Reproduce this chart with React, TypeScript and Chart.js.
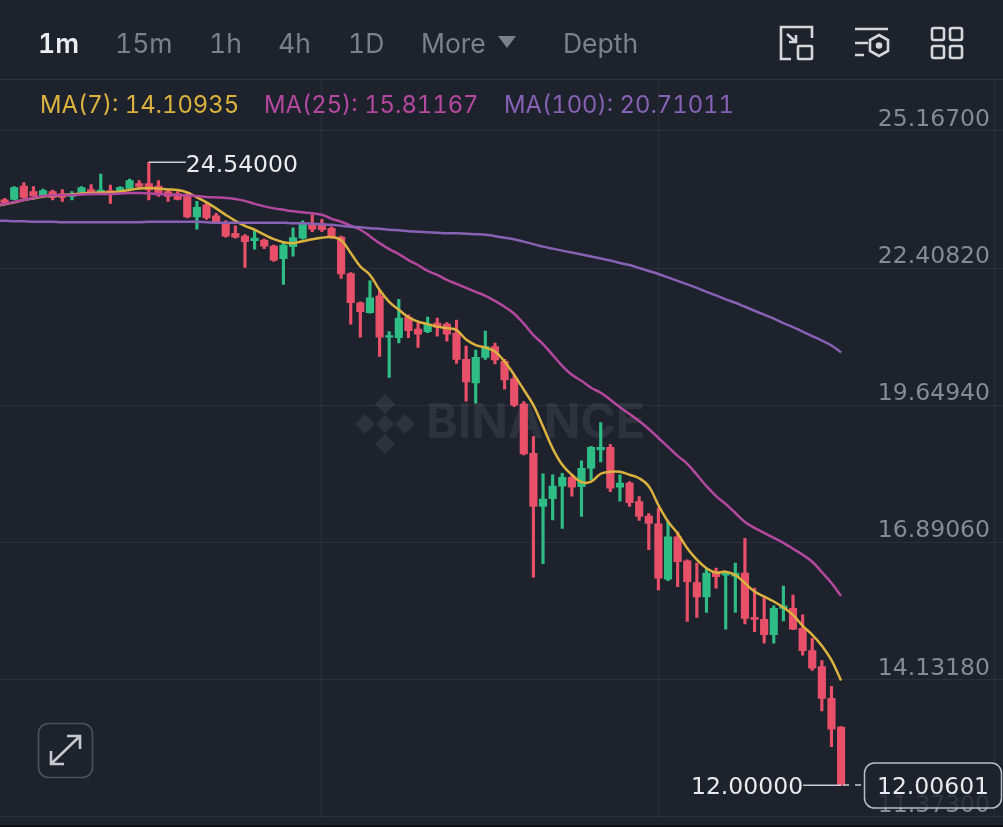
import React, { useEffect, useRef } from "react";
import { Chart, registerables } from "chart.js";

Chart.register(...registerables);

// candles, oldest first
const opens = [
  23.78, 23.79, 24.06, 23.95, 23.87, 23.95, 23.91, 23.85, 23.93, 23.99, 23.93, 23.97, 23.95, 24.01, 24.11, 24.11,
  24.06, 23.95, 23.91, 23.88, 23.44, 23.68, 23.46, 23.32, 23.11, 23.05, 22.96, 22.97, 22.85, 22.6, 22.84, 23.01,
  23.28, 23.3, 23.21, 23.03, 22.3, 21.71, 21.51, 21.85, 21.02, 21.01, 21.42, 21.18, 21.13, 21.3, 21.28, 21.1,
  20.57, 20.1, 20.61, 20.83, 20.53, 20.18, 19.67, 18.68, 17.61, 17.77, 18.02, 18.2, 18.01, 18.38, 18.75, 18.8,
  18.0, 18.08, 17.71, 17.42, 17.26, 16.15, 17.0, 16.52, 16.08, 15.79, 16.3, 16.23, 16.21, 16.27, 15.38, 15.34,
  15.03, 15.56, 15.56, 15.16, 14.71, 14.39, 13.75, 13.17,
];
const closes = [
  23.73, 24.03, 23.83, 23.86, 23.97, 23.83, 23.83, 23.91, 24.03, 23.91, 23.98, 23.9, 24.03, 24.17, 24.05, 23.98,
  23.88, 23.85, 23.79, 23.44, 23.63, 23.42, 23.32, 23.05, 23.03, 22.94, 23.01, 22.85, 22.57, 22.87, 23.02, 23.3,
  23.19, 23.18, 23.04, 22.29, 21.71, 21.53, 21.81, 21.02, 21.05, 21.4, 21.15, 21.08, 21.28, 21.22, 21.08, 20.57,
  20.12, 20.61, 20.83, 20.56, 20.16, 19.65, 18.67, 17.61, 17.76, 18.02, 18.2, 18.0, 18.38, 18.8, 18.8, 17.98,
  18.08, 17.69, 17.41, 17.27, 16.17, 17.0, 16.5, 16.1, 15.79, 16.27, 16.2, 16.27, 16.27, 15.36, 15.34, 15.03,
  15.56, 15.61, 15.14, 14.71, 14.36, 13.75, 13.13, 12.01,
];
const highs = [
  23.81, 24.05, 24.13, 24.05, 24.0, 23.98, 23.99, 23.95, 24.05, 24.09, 24.3, 24.08, 24.05, 24.2, 24.17, 24.54,
  24.17, 23.98, 23.95, 23.91, 23.75, 23.71, 23.51, 23.36, 23.26, 23.08, 23.18, 22.99, 22.87, 22.91, 23.22, 23.36,
  23.48, 23.39, 23.24, 23.05, 22.32, 21.73, 22.15, 21.97, 21.13, 21.78, 21.47, 21.3, 21.42, 21.4, 21.31, 21.36,
  20.84, 20.76, 21.14, 20.9, 20.57, 20.26, 19.72, 19.02, 18.27, 18.25, 18.28, 18.25, 18.53, 18.82, 19.3, 18.86,
  18.25, 18.11, 17.81, 17.47, 17.58, 17.31, 17.1, 16.54, 16.47, 16.37, 16.37, 16.28, 16.47, 16.97, 15.97, 15.78,
  15.61, 16.01, 15.83, 15.43, 14.96, 14.51, 13.99, 13.18,
];
const lows = [
  23.71, 23.78, 23.81, 23.85, 23.86, 23.78, 23.75, 23.78, 23.91, 23.88, 23.91, 23.71, 23.93, 23.99, 24.03, 23.78,
  23.85, 23.75, 23.78, 23.42, 23.19, 23.39, 23.3, 23.03, 23.01, 22.42, 22.79, 22.8, 22.54, 22.08, 22.65, 22.99,
  23.14, 23.14, 23.01, 22.2, 21.28, 21.02, 21.5, 20.63, 20.21, 20.9, 21.01, 20.81, 21.11, 21.04, 20.94, 20.49,
  19.73, 19.69, 20.57, 20.48, 19.97, 19.62, 18.65, 16.19, 16.46, 17.34, 17.17, 17.82, 17.41, 18.15, 18.51, 17.91,
  17.72, 17.61, 17.33, 16.74, 15.93, 16.12, 16.0, 15.3, 15.38, 15.48, 15.97, 15.14, 15.48, 15.25, 15.09, 14.86,
  14.86, 15.31, 15.13, 14.62, 14.31, 13.5, 12.78, 12.0,
];

// moving averages start one candle before the first visible one
const ma7 = [
  23.66, 23.69, 23.73, 23.78, 23.81, 23.85, 23.86, 23.88, 23.89, 23.91, 23.92, 23.93, 23.93, 23.95, 23.98, 24.01,
  24.02, 24.01, 23.99, 23.98, 23.93, 23.83, 23.73, 23.61, 23.48, 23.36, 23.26, 23.18, 23.08, 22.99, 22.93, 22.91,
  22.95, 22.99, 23.02, 23.03, 22.97, 22.71, 22.44, 22.27, 21.97, 21.73, 21.57, 21.42, 21.33, 21.28, 21.23, 21.2,
  21.16, 20.97, 20.86, 20.81, 20.73, 20.53, 20.26, 19.96, 19.65, 19.22, 18.78, 18.45, 18.25, 18.1, 18.11, 18.27,
  18.31, 18.31, 18.25, 18.18, 18.02, 17.64, 17.31, 17.07, 16.77, 16.54, 16.37, 16.28, 16.3, 16.23, 16.07, 15.9,
  15.8, 15.7, 15.58, 15.43, 15.21, 15.03, 14.81, 14.52, 14.11,
];
const ma25 = [
  23.66, 23.7, 23.74, 23.78, 23.82, 23.86, 23.87, 23.88, 23.88, 23.89, 23.9, 23.9, 23.9, 23.91, 23.92, 23.92,
  23.91, 23.9, 23.89, 23.88, 23.87, 23.86, 23.84, 23.83, 23.82, 23.8, 23.76, 23.7, 23.65, 23.61, 23.58, 23.55,
  23.53, 23.51, 23.48, 23.4, 23.34, 23.26, 23.18, 23.05, 22.91, 22.79, 22.69, 22.57, 22.47, 22.35, 22.27, 22.17,
  22.09, 22.01, 21.93, 21.85, 21.75, 21.63, 21.49, 21.29, 21.06, 20.88, 20.66, 20.44, 20.26, 20.14, 20.0, 19.9,
  19.76, 19.61, 19.47, 19.33, 19.17, 18.99, 18.81, 18.63, 18.47, 18.25, 18.02, 17.82, 17.66, 17.48, 17.3, 17.18,
  17.08, 16.98, 16.88, 16.76, 16.64, 16.5, 16.29, 16.07, 15.81,
];
const ma100 = [
  23.36, 23.36, 23.35, 23.35, 23.34, 23.34, 23.34, 23.33, 23.33, 23.33, 23.33, 23.33, 23.33, 23.33, 23.33, 23.33,
  23.34, 23.34, 23.34, 23.34, 23.34, 23.34, 23.33, 23.32, 23.32, 23.32, 23.32, 23.32, 23.32, 23.32, 23.32, 23.31,
  23.31, 23.3, 23.29, 23.28, 23.26, 23.24, 23.23, 23.21, 23.2, 23.18, 23.17, 23.15, 23.14, 23.13, 23.12, 23.11,
  23.11, 23.1, 23.09, 23.08, 23.05, 23.02, 22.99, 22.94, 22.89, 22.84, 22.8, 22.76, 22.72, 22.68, 22.64, 22.6,
  22.56, 22.51, 22.47, 22.41, 22.35, 22.29, 22.22, 22.15, 22.08, 22.01, 21.93, 21.86, 21.78, 21.71, 21.63, 21.55,
  21.47, 21.39, 21.3, 21.22, 21.13, 21.04, 20.95, 20.85, 20.71,
];

const priceTicks = [25.167, 22.4082, 19.6494, 16.8906, 14.1318, 11.373];
const timeGridIndexes = [33, 68, 103];
const timeframes = ["1m", "15m", "1h", "4h", "1D", "More", "Depth"];
const timeframeLefts = [38, 115, 209, 278, 348, 421, 563];
const maLabels = ["MA(7): 14.10935", "MA(25): 15.81167", "MA(100): 20.71011"];
const maLefts = [40, 264, 504];

const highPrice = 24.54;
const highIndex = 15;
const lowPrice = 12.0;
const lastPrice = 12.00601;

const WIDTH = 1003;
const HEIGHT = 827;
const BG = "#1d222d";
const UP = "#2ebd85";
const DOWN = "#e8506a";
const YELLOW = "#dcb23f";
const PINK = "#b4489f";
const PURPLE = "#8761b3";
const TICK = "#858a93";
const FONT = "Inter, 'Noto Sans', sans-serif";
// digits in the reference are all the same width, DejaVu has the closest metrics
const NUM_FONT = "'DejaVu Sans', sans-serif";

const overlayPlugin = {
  id: "overlay",
  beforeDatasetsDraw(chart: any) {
    const { ctx } = chart;
    // watermark
    ctx.save();
    ctx.fillStyle = "rgba(255,255,255,0.075)";
    ctx.font = `700 48px ${FONT}`;
    ctx.textAlign = "left";
    ctx.textBaseline = "middle";
    ctx.fillText("BINANCE", 426, 424);
    const diamond = (cx: number, cy: number, r: number) => {
      ctx.beginPath();
      ctx.moveTo(cx, cy - r);
      ctx.lineTo(cx + r, cy);
      ctx.lineTo(cx, cy + r);
      ctx.lineTo(cx - r, cy);
      ctx.closePath();
      ctx.fill();
    };
    diamond(385, 424, 9);
    diamond(385, 404, 10);
    diamond(385, 444, 10);
    diamond(365, 424, 10);
    diamond(405, 424, 10);
    ctx.restore();
  },
  afterDraw(chart: any) {
    const { ctx, scales } = chart;
    const x = scales.x;
    const y = scales.y;
    ctx.save();
    ctx.font = `400 23.5px ${NUM_FONT}`;
    ctx.textBaseline = "middle";
    ctx.fillStyle = "#e8eaed";
    ctx.strokeStyle = "#c9ccd1";
    ctx.lineWidth = 1.5;

    // highest price callout
    const hx = x.getPixelForValue(highIndex);
    const hy = y.getPixelForValue(highPrice);
    ctx.beginPath();
    ctx.moveTo(hx, hy);
    ctx.lineTo(hx + 37, hy);
    ctx.stroke();
    ctx.textAlign = "left";
    ctx.fillText(highPrice.toFixed(5), hx + 37, hy + 4);

    // lowest price callout
    const lx = x.getPixelForValue(opens.length - 1);
    const ly = y.getPixelForValue(lowPrice);
    ctx.beginPath();
    ctx.moveTo(lx, ly);
    ctx.lineTo(lx - 38, ly);
    ctx.stroke();
    ctx.textAlign = "right";
    ctx.fillText(lowPrice.toFixed(5), lx - 38, ly + 3);

    // last price dashes and tag
    const py = y.getPixelForValue(lastPrice);
    ctx.setLineDash([6, 6]);
    ctx.beginPath();
    ctx.moveTo(lx + 2, py);
    ctx.lineTo(864, py);
    ctx.stroke();
    ctx.setLineDash([]);
    ctx.beginPath();
    ctx.roundRect(864.5, py - 22, 137, 45, 10);
    ctx.fillStyle = "rgba(29,34,45,0.82)";
    ctx.fill();
    ctx.strokeStyle = "#b9bcc2";
    ctx.stroke();
    ctx.fillStyle = "#e8eaed";
    ctx.textAlign = "center";
    ctx.fillText(lastPrice.toFixed(5), 933, py + 3);
    ctx.restore();
  },
};

// the axes must not take any room, the plot fills the page
const noRoom = (axis: any) => {
  axis.paddingLeft = 0;
  axis.paddingRight = 0;
  axis.paddingTop = 0;
  axis.paddingBottom = 0;
  if (axis.isHorizontal()) axis.height = 0;
  else axis.width = 0;
};

export default function App() {
  const canvasRef = useRef<HTMLCanvasElement | null>(null);

  useEffect(() => {
    if (!canvasRef.current) return;
    const colors = closes.map((c, i) => (c >= opens[i] ? UP : DOWN));
    const maLine = (values: number[], color: string) => ({
      type: "line" as const,
      data: values.map((v, i) => ({ x: i - 1, y: v })),
      borderColor: color,
      borderWidth: 2.5,
      pointRadius: 0,
      tension: 0.4,
      order: 0,
    });

    const chart = new Chart(canvasRef.current, {
      type: "bar",
      data: {
        datasets: [
          maLine(ma100, PURPLE),
          maLine(ma25, PINK),
          maLine(ma7, YELLOW),
          {
            data: closes.map((c, i) => ({ x: i, y: [opens[i], c] })),
            backgroundColor: colors,
            barThickness: 7.5,
            grouped: false,
            order: 1,
          },
          {
            data: highs.map((h, i) => ({ x: i, y: [lows[i], h] })),
            backgroundColor: colors,
            barThickness: 2.5,
            grouped: false,
            order: 2,
          },
        ] as any,
      },
      options: {
        responsive: false,
        animation: false,
        layout: { padding: { top: 80, bottom: 10.5, left: 0, right: 0 } },
        plugins: { legend: { display: false }, tooltip: { enabled: false } },
        scales: {
          x: {
            type: "linear",
            offset: false,
            min: -0.478,
            max: 103.84,
            border: { display: false },
            grid: { color: "rgba(255,255,255,0.06)", drawTicks: false, offset: false },
            ticks: { display: false },
            afterBuildTicks: (axis: any) => {
              axis.ticks = timeGridIndexes.map((value) => ({ value }));
            },
            afterFit: noRoom,
          },
          y: {
            position: "right",
            min: 11.373,
            max: 26.193,
            border: { display: false },
            grid: { color: "rgba(255,255,255,0.06)", drawTicks: false },
            ticks: {
              mirror: true,
              padding: -13,
              labelOffset: -11,
              color: TICK,
              font: { family: NUM_FONT, size: 23.5 },
              callback: (value: any) => Number(value).toFixed(5),
            },
            afterBuildTicks: (axis: any) => {
              axis.ticks = priceTicks.map((value) => ({ value }));
            },
            afterFit: noRoom,
          },
        },
      } as any,
      plugins: [overlayPlugin],
    });

    return () => chart.destroy();
  }, []);

  const icon = { fill: "none", stroke: "#d5d7db", strokeWidth: 2.6 };

  return (
    <div
      style={{
        position: "fixed",
        left: 0,
        top: 0,
        width: WIDTH,
        height: HEIGHT,
        background: BG,
        fontFamily: FONT,
        fontVariantNumeric: "tabular-nums",
        overflow: "hidden",
      }}
    >
      <canvas ref={canvasRef} width={WIDTH} height={HEIGHT} style={{ position: "absolute", left: 0, top: 0 }} />

      {/* toolbar */}
      {timeframes.map((t, i) => (
        <div
          key={t}
          style={{
            position: "absolute",
            left: timeframeLefts[i],
            top: 26,
            fontSize: 26.5,
            lineHeight: "34px",
            fontWeight: i === 0 ? 600 : 400,
            color: i === 0 ? "#eceef0" : "#7c8089",
          }}
        >
          {t}
        </div>
      ))}
      <svg style={{ position: "absolute", left: 496, top: 34 }} width={22} height={16}>
        <path d="M2 2 H20 L11 14 Z" fill="#7c8089" />
      </svg>
      <div style={{ position: "absolute", left: 0, top: 79, width: WIDTH, height: 1, background: "rgba(255,255,255,0.07)" }} />

      <svg style={{ position: "absolute", left: 776, top: 22 }} width={42} height={42} {...icon}>
        <path d="M5 27 V5 H36 V16 M5 27 V37 H15" />
        <rect x="22" y="24" width="14" height="13" rx="1" />
        <path d="M11 12 L20 20 M20 13 V20 H13" />
      </svg>
      <svg style={{ position: "absolute", left: 852, top: 22 }} width={42} height={42} {...icon}>
        <path d="M3 7 H36 M3 21 H16 M3 33 H12" />
        <path d="M27 13 L36 18 V29 L27 34 L18 29 V18 Z" />
        <circle cx="27" cy="23.5" r="2" fill="#d5d7db" />
      </svg>
      <svg style={{ position: "absolute", left: 926, top: 22 }} width={42} height={42} {...icon}>
        <rect x="6" y="6" width="12" height="12" rx="2" />
        <rect x="24" y="6" width="12" height="12" rx="2" />
        <rect x="6" y="24" width="12" height="12" rx="2" />
        <rect x="24" y="24" width="12" height="12" rx="2" />
      </svg>

      {/* moving average legend */}
      {maLabels.map((label, i) => (
        <div
          key={label}
          style={{
            position: "absolute",
            left: maLefts[i],
            top: 90,
            fontSize: 23.8,
            lineHeight: "30px",
            whiteSpace: "nowrap",
            color: [YELLOW, PINK, PURPLE][i],
          }}
        >
          {label}
        </div>
      ))}

      {/* fullscreen button */}
      <svg style={{ position: "absolute", left: 37, top: 722 }} width={57} height={57} fill="none" stroke="#c6c8cd" strokeWidth={2}>
        <rect x="1.5" y="1.5" width="54" height="54" rx="10" stroke="#4c505a" strokeWidth={1.6} />
        <path d="M15 41 L42 15 M30 14 H43 V27 M14 29 V42 H27" strokeWidth={2.6} />
      </svg>

      <div style={{ position: "absolute", left: 0, top: 825, width: WIDTH, height: 2, background: "#0c0e12" }} />
    </div>
  );
}
